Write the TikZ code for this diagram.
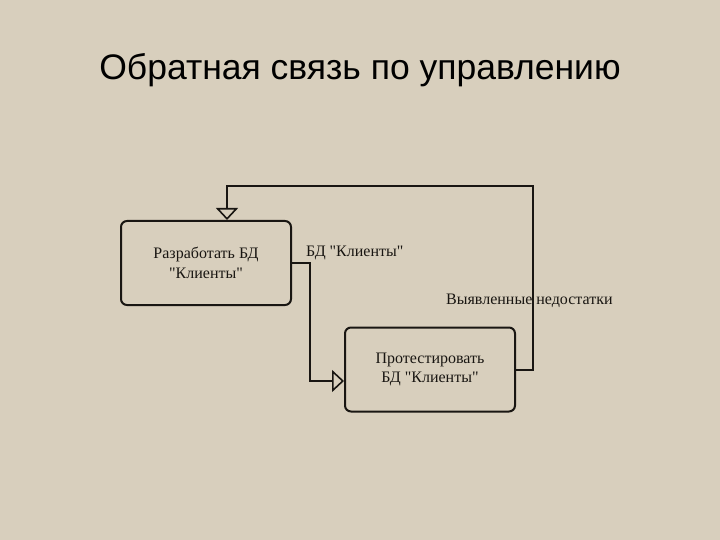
\documentclass[tikz,border=0pt]{standalone}
\usepackage{fontspec}
\setmainfont{Liberation Serif}[Ligatures=TeXOff]
\newfontfamily\titlefont{Liberation Sans}
\usepackage{xcolor}
\usetikzlibrary{arrows.meta}
\definecolor{paper}{RGB}{216,207,189}
\definecolor{ink}{RGB}{25,22,18}

\tikzset{
  act/.style={draw=ink, line width=2pt, rounded corners=6pt, minimum width=170pt,
    minimum height=84pt, align=center, font=\fontsize{16}{19.5}\selectfont, text=ink},
  flow/.style={draw=ink, line width=2pt, -{Triangle[open, length=12pt, width=22pt, line width=1.6pt]}},
  lbl/.style={font=\fontsize{16}{19}\selectfont, text=ink, anchor=west, inner sep=0pt}
}

\begin{document}
\begin{tikzpicture}[x=1pt,y=-1pt]
\fill[paper] (0,0) rectangle (720,540);
\useasboundingbox (0,0) rectangle (720,540);
\node[font=\titlefont\fontsize{35.5}{40}\selectfont, text=black] (title) at (360,70) {Обратная связь по управлению};
% activity boxes
\node[act] (dev) at (206,263) {Разработать БД\\"Клиенты"};
\node[act] (test) at (430,369.5) {Протестировать\\БД "Клиенты"};
% arrows
\coordinate (c1) at (310,263);
\coordinate (c2) at (533,369.5);
\coordinate (c3) at (533,186);
\coordinate (c4) at (227,186);
\draw[flow] (dev.east) -- (c1) |- ([yshift=-11.5pt]test.west);
\draw[flow] (test.east) -- (c2) -- (c3) -- (c4) -- ([xshift=21pt]dev.north);
\node[lbl] (out) at (306,253) {БД "Клиенты"};
\node[lbl] (err) at (446,301) {Выявленные недостатки};
\end{tikzpicture}
\end{document}
